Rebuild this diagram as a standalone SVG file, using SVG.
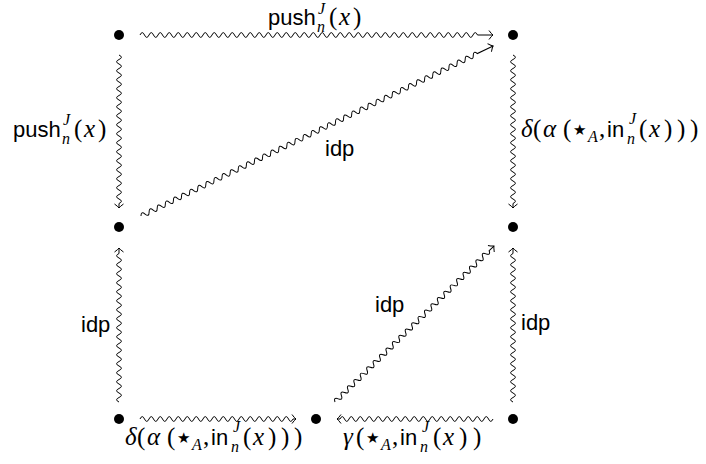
<svg xmlns="http://www.w3.org/2000/svg" width="706" height="464" viewBox="0 0 706 464">
<style>
.s{font-family:"Liberation Sans",Arial,sans-serif;font-size:22px;fill:#000}
.m{font-family:"Liberation Serif","Times New Roman",serif;font-size:25px;fill:#000}
.i{font-style:italic}
.sc{font-family:"Liberation Serif","Times New Roman",serif;font-size:16px;font-style:italic;fill:#000}
.st{font-family:"DejaVu Sans",sans-serif;font-size:15px;fill:#000}
.w{fill:none;stroke:#000;stroke-width:1;marker-end:url(#ar)}
.dot{fill:#000}
</style>
<defs>
<marker id="ar" markerUnits="userSpaceOnUse" markerWidth="12" markerHeight="12" viewBox="-6 -6 12 12" refX="0" refY="0" orient="auto" overflow="visible">
<path d="M-4 -4.5 Q-1.5 -1 0 0 Q-1.5 1 -4 4.5" fill="none" stroke="#000" stroke-width="1"/>
</marker>
</defs>
<g id="connectors">
<g transform="translate(140,35)"><path class="w" d="M0 0 q2.25 -4.8 4.5 0 t4.5 0 t4.5 0 t4.5 0 t4.5 0 t4.5 0 t4.5 0 t4.5 0 t4.5 0 t4.5 0 t4.5 0 t4.5 0 t4.5 0 t4.5 0 t4.5 0 t4.5 0 t4.5 0 t4.5 0 t4.5 0 t4.5 0 t4.5 0 t4.5 0 t4.5 0 t4.5 0 t4.5 0 t4.5 0 t4.5 0 t4.5 0 t4.5 0 t4.5 0 t4.5 0 t4.5 0 t4.5 0 t4.5 0 t4.5 0 t4.5 0 t4.5 0 t4.5 0 t4.5 0 t4.5 0 t4.5 0 t4.5 0 t4.5 0 t4.5 0 t4.5 0 t4.5 0 t4.5 0 t4.5 0 t4.5 0 t4.5 0 t4.5 0 t4.5 0 t4.5 0 t4.5 0 t4.5 0 t4.5 0 t4.5 0 t4.5 0 t4.5 0 t4.5 0 t4.5 0 t4.5 0 t4.5 0 t4.5 0 t4.5 0 t4.5 0 t4.5 0 t4.5 0 t4.5 0 t4.5 0 t4.5 0 t4.5 0 t4.5 0 t4.5 0 t4.5 0 H353"/></g>
<g transform="translate(119,55) rotate(90)"><path class="w" d="M0 0 q2.25 -4.8 4.5 0 t4.5 0 t4.5 0 t4.5 0 t4.5 0 t4.5 0 t4.5 0 t4.5 0 t4.5 0 t4.5 0 t4.5 0 t4.5 0 t4.5 0 t4.5 0 t4.5 0 t4.5 0 t4.5 0 t4.5 0 t4.5 0 t4.5 0 t4.5 0 t4.5 0 t4.5 0 t4.5 0 t4.5 0 t4.5 0 t4.5 0 t4.5 0 t4.5 0 t4.5 0 t4.5 0 t4.5 0 t4.5 0 H153"/></g>
<g transform="translate(513,55) rotate(90)"><path class="w" d="M0 0 q2.25 -4.8 4.5 0 t4.5 0 t4.5 0 t4.5 0 t4.5 0 t4.5 0 t4.5 0 t4.5 0 t4.5 0 t4.5 0 t4.5 0 t4.5 0 t4.5 0 t4.5 0 t4.5 0 t4.5 0 t4.5 0 t4.5 0 t4.5 0 t4.5 0 t4.5 0 t4.5 0 t4.5 0 t4.5 0 t4.5 0 t4.5 0 t4.5 0 t4.5 0 t4.5 0 t4.5 0 t4.5 0 t4.5 0 t4.5 0 H153"/></g>
<g transform="translate(141,216) rotate(-25.78)"><path class="w" d="M0 0 q2.25 -4.8 4.5 0 t4.5 0 t4.5 0 t4.5 0 t4.5 0 t4.5 0 t4.5 0 t4.5 0 t4.5 0 t4.5 0 t4.5 0 t4.5 0 t4.5 0 t4.5 0 t4.5 0 t4.5 0 t4.5 0 t4.5 0 t4.5 0 t4.5 0 t4.5 0 t4.5 0 t4.5 0 t4.5 0 t4.5 0 t4.5 0 t4.5 0 t4.5 0 t4.5 0 t4.5 0 t4.5 0 t4.5 0 t4.5 0 t4.5 0 t4.5 0 t4.5 0 t4.5 0 t4.5 0 t4.5 0 t4.5 0 t4.5 0 t4.5 0 t4.5 0 t4.5 0 t4.5 0 t4.5 0 t4.5 0 t4.5 0 t4.5 0 t4.5 0 t4.5 0 t4.5 0 t4.5 0 t4.5 0 t4.5 0 t4.5 0 t4.5 0 t4.5 0 t4.5 0 t4.5 0 t4.5 0 t4.5 0 t4.5 0 t4.5 0 t4.5 0 t4.5 0 t4.5 0 t4.5 0 t4.5 0 t4.5 0 t4.5 0 t4.5 0 t4.5 0 t4.5 0 t4.5 0 t4.5 0 t4.5 0 t4.5 0 t4.5 0 t4.5 0 t4.5 0 t4.5 0 t4.5 0 H391"/></g>
<g transform="translate(119,402) rotate(-90)"><path class="w" d="M0 0 q2.25 -4.8 4.5 0 t4.5 0 t4.5 0 t4.5 0 t4.5 0 t4.5 0 t4.5 0 t4.5 0 t4.5 0 t4.5 0 t4.5 0 t4.5 0 t4.5 0 t4.5 0 t4.5 0 t4.5 0 t4.5 0 t4.5 0 t4.5 0 t4.5 0 t4.5 0 t4.5 0 t4.5 0 t4.5 0 t4.5 0 t4.5 0 t4.5 0 t4.5 0 t4.5 0 t4.5 0 t4.5 0 t4.5 0 t4.5 0 H154"/></g>
<g transform="translate(513,402) rotate(-90)"><path class="w" d="M0 0 q2.25 -4.8 4.5 0 t4.5 0 t4.5 0 t4.5 0 t4.5 0 t4.5 0 t4.5 0 t4.5 0 t4.5 0 t4.5 0 t4.5 0 t4.5 0 t4.5 0 t4.5 0 t4.5 0 t4.5 0 t4.5 0 t4.5 0 t4.5 0 t4.5 0 t4.5 0 t4.5 0 t4.5 0 t4.5 0 t4.5 0 t4.5 0 t4.5 0 t4.5 0 t4.5 0 t4.5 0 t4.5 0 t4.5 0 t4.5 0 H154"/></g>
<g transform="translate(335,402) rotate(-44.46)"><path class="w" d="M0 0 q2.25 -4.8 4.5 0 t4.5 0 t4.5 0 t4.5 0 t4.5 0 t4.5 0 t4.5 0 t4.5 0 t4.5 0 t4.5 0 t4.5 0 t4.5 0 t4.5 0 t4.5 0 t4.5 0 t4.5 0 t4.5 0 t4.5 0 t4.5 0 t4.5 0 t4.5 0 t4.5 0 t4.5 0 t4.5 0 t4.5 0 t4.5 0 t4.5 0 t4.5 0 t4.5 0 t4.5 0 t4.5 0 t4.5 0 t4.5 0 t4.5 0 t4.5 0 t4.5 0 t4.5 0 t4.5 0 t4.5 0 t4.5 0 t4.5 0 t4.5 0 t4.5 0 t4.5 0 t4.5 0 t4.5 0 t4.5 0 t4.5 0 H222.7"/></g>
<g transform="translate(140,419)"><path class="w" d="M0 0 q2.25 -4.8 4.5 0 t4.5 0 t4.5 0 t4.5 0 t4.5 0 t4.5 0 t4.5 0 t4.5 0 t4.5 0 t4.5 0 t4.5 0 t4.5 0 t4.5 0 t4.5 0 t4.5 0 t4.5 0 t4.5 0 t4.5 0 t4.5 0 t4.5 0 t4.5 0 t4.5 0 t4.5 0 t4.5 0 t4.5 0 t4.5 0 t4.5 0 t4.5 0 t4.5 0 t4.5 0 t4.5 0 t4.5 0 t4.5 0 t4.5 0 H156"/></g>
<g transform="translate(493,419) rotate(180)"><path class="w" d="M0 0 q2.25 -4.8 4.5 0 t4.5 0 t4.5 0 t4.5 0 t4.5 0 t4.5 0 t4.5 0 t4.5 0 t4.5 0 t4.5 0 t4.5 0 t4.5 0 t4.5 0 t4.5 0 t4.5 0 t4.5 0 t4.5 0 t4.5 0 t4.5 0 t4.5 0 t4.5 0 t4.5 0 t4.5 0 t4.5 0 t4.5 0 t4.5 0 t4.5 0 t4.5 0 t4.5 0 t4.5 0 t4.5 0 t4.5 0 t4.5 0 t4.5 0 H156"/></g>
</g>
<g id="labels">
<g id="lbl-top">
<text class="s" x="268" y="25">push</text>
<text class="sc"><tspan x="318" y="14">J</tspan><tspan x="317" y="32">n</tspan></text>
<text class="m" x="329" y="25">(</text>
<text class="m i" x="339" y="25">x</text>
<text class="m" x="353" y="25">)</text>
</g>
<g id="lbl-left">
<text class="s" x="13" y="137">push</text>
<text class="sc"><tspan x="63" y="125">J</tspan><tspan x="62" y="144">n</tspan></text>
<text class="m" x="74" y="137">(</text>
<text class="m i" x="84" y="137">x</text>
<text class="m" x="98" y="137">)</text>
</g>
<g id="lbl-right">
<text class="m i" x="521" y="137">δ</text>
<text class="m" x="533" y="137">(</text>
<text class="m i" x="543" y="137">α</text>
<text class="m" x="563" y="137">(</text>
<text class="st" x="573" y="135">★</text>
<text class="sc" x="588" y="142">A</text>
<text class="m" x="599" y="137">,</text>
<text class="s" x="607" y="137">in</text>
<text class="sc"><tspan x="629" y="124">J</tspan><tspan x="627" y="144">n</tspan></text>
<text class="m" x="639" y="137">(</text>
<text class="m i" x="649" y="137">x</text>
<text class="m" x="664" y="137">)</text>
<text class="m" x="677" y="137">)</text>
<text class="m" x="690" y="137">)</text>
</g>
<text class="s" x="325" y="156">idp</text>
<text class="s" x="81" y="332">idp</text>
<text class="s" x="521" y="330">idp</text>
<text class="s" x="375" y="312">idp</text>
<g id="lbl-bl">
<text class="m i" x="125" y="445">δ</text>
<text class="m" x="137" y="445">(</text>
<text class="m i" x="147" y="445">α</text>
<text class="m" x="167" y="445">(</text>
<text class="st" x="177" y="443">★</text>
<text class="sc" x="192" y="450">A</text>
<text class="m" x="203" y="445">,</text>
<text class="s" x="211" y="445">in</text>
<text class="sc"><tspan x="233" y="432">J</tspan><tspan x="231" y="452">n</tspan></text>
<text class="m" x="243" y="445">(</text>
<text class="m i" x="253" y="445">x</text>
<text class="m" x="268" y="445">)</text>
<text class="m" x="281" y="445">)</text>
<text class="m" x="294" y="445">)</text>
</g>
<g id="lbl-br">
<text class="m i" x="343" y="445">γ</text>
<text class="m" x="356" y="445">(</text>
<text class="st" x="366" y="443">★</text>
<text class="sc" x="381" y="450">A</text>
<text class="m" x="392" y="445">,</text>
<text class="s" x="400" y="445">in</text>
<text class="sc"><tspan x="422" y="432">J</tspan><tspan x="420" y="452">n</tspan></text>
<text class="m" x="433" y="445">(</text>
<text class="m i" x="443" y="445">x</text>
<text class="m" x="459" y="445">)</text>
<text class="m" x="473" y="445">)</text>
</g>
</g>
<g id="n1"><circle class="dot" cx="119" cy="35" r="5"/></g>
<g id="n2"><circle class="dot" cx="513" cy="35" r="5"/></g>
<g id="n3"><circle class="dot" cx="119" cy="227" r="5"/></g>
<g id="n4"><circle class="dot" cx="513" cy="227" r="5"/></g>
<g id="n5"><circle class="dot" cx="119" cy="419" r="5"/></g>
<g id="n6"><circle class="dot" cx="316" cy="419" r="5"/></g>
<g id="n7"><circle class="dot" cx="513" cy="419" r="5"/></g>
</svg>
